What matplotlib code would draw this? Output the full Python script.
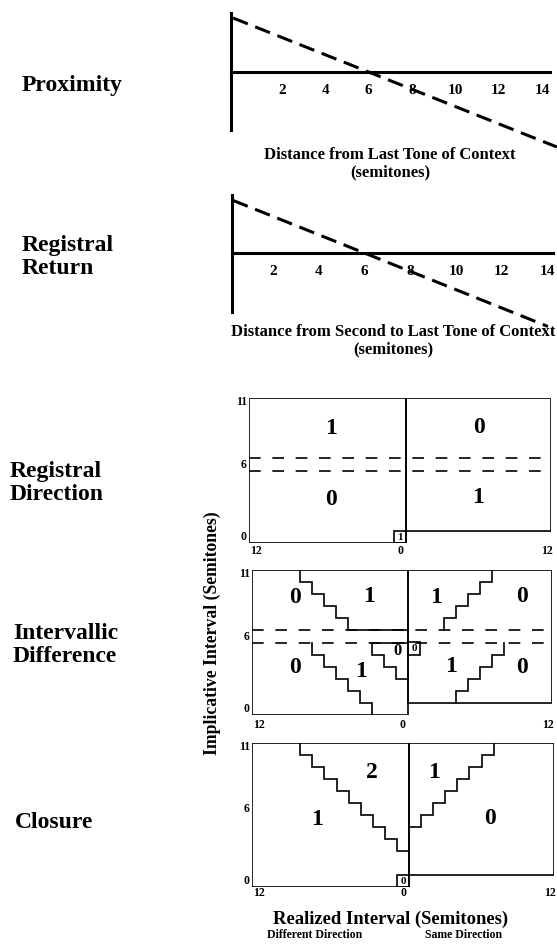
import numpy as np
import matplotlib
matplotlib.use("Agg")
import matplotlib.pyplot as plt
from matplotlib.patches import Rectangle

plt.rcParams["font.family"] = ["Liberation Serif", "DejaVu Serif"]
plt.rcParams["font.weight"] = "bold"

W, H = 557, 948

# --- top two panels: expected value vs. distance (semitones) ---
DIST_TICKS = [2, 4, 6, 8, 10, 12, 14]
PROX_X = [-0.26, 14.69]
PROX_Y = [6.26, -8.69]
RR_X = [0.26, 14.02]
RR_Y = [5.74, -8.02]

# --- grid panels: rows = implicative interval 0..11, cols = realized 0..12 ---
N_ROWS = 12          # implicative 0..11
N_DIFF = 13          # realized 0..12, different direction (incl. unison)
N_SAME = 12          # realized 1..12, same direction
IMPL_TICK_LABELS = ["0", "6", "11"]
REAL_TICK_LABELS = ["12", "0", "12"]

# registral direction: ambiguous band at implicative = 6
RD_BAND = [6, 7]
RD_SCORES = [1, 0, 0, 1, 1]   # diff-large, diff-small, same-large, same-small, unison cell

# intervallic difference: last realized interval of each "1"/"0" region per row
ID_LARGE_ROWS = [11, 10, 9, 8, 7]
ID_DIFF_LARGE_RMAX = [8, 7, 6, 5, 4]
ID_SAME_LARGE_RMAX = [7, 6, 5, 4, 3]
ID_SMALL_ROWS = [5, 4, 3, 2, 1, 0]
ID_DIFF_SMALL_RMAX = [7, 6, 5, 4, 3, 2]
ID_DIFF_ZERO_ROWS = [5, 4, 3]
ID_DIFF_ZERO_RMAX = [2, 1, 0]
ID_SAME_SMALL_ROWS = [5, 4, 3, 2, 1]
ID_SAME_SMALL_RMAX = [8, 7, 6, 5, 4]
ID_SCORES = [0, 1, 0, 1, 0, 1, 0, 1, 0, 0]

# closure
CL_DIFF_ROWS = [11, 10, 9, 8, 7, 6, 5, 4, 3]
CL_DIFF_RMAX = [8, 7, 6, 5, 4, 3, 2, 1, 0]
CL_SAME_ROWS = [11, 10, 9, 8, 7, 6, 5]
CL_SAME_RMAX = [7, 6, 5, 4, 3, 2, 1]
CL_SCORES = [2, 1, 1, 0, 0]

fig = plt.figure(figsize=(W / 100, H / 100), dpi=100)


def px_axes(left, top, right, bottom):
    return fig.add_axes([left / W, 1 - bottom / H, (right - left) / W, (bottom - top) / H])


def ftext(x, y, s, **kw):
    fig.text(x / W, 1 - y / H, s, **kw)


def dist_panel(box, xlim, ylim, xs, ys, label, label_x, label_y):
    ax = px_axes(*box)
    ax.set_xlim(*xlim)
    ax.set_ylim(*ylim)
    ax.patch.set_alpha(0)
    for s in ("top", "right"):
        ax.spines[s].set_visible(False)
    ax.spines["left"].set_linewidth(2.2)
    ax.spines["bottom"].set_linewidth(2.2)
    ax.spines["bottom"].set_position(("data", 0))
    ax.set_yticks([])
    ax.set_xticks(DIST_TICKS, [str(t) for t in DIST_TICKS])
    ax.tick_params(axis="x", length=0, pad=8.5, labelsize=11)
    ax.plot(xs, ys, color="black", lw=2.2, ls=(0, (5.2, 2.6)), clip_on=False)
    ftext(label_x, label_y, label, ha="center", va="center", fontsize=12)
    ftext(label_x, label_y + 17, "(semitones)", ha="center", va="center", fontsize=12)
    return ax


dist_panel((231, 13, 550, 130), (-0.355, 14.37), (-6.72, 6.84), PROX_X, PROX_Y,
           "Distance from Last Tone of Context", 390, 155)
dist_panel((232, 195, 553, 312), (0.218, 14.24), (-6.44, 6.33), RR_X, RR_Y,
           "Distance from Second to Last Tone of Context", 393, 332)


def stairs(rows, xs, start=None, end=None):
    pts = [] if start is None else [start]
    for i, x in zip(rows, xs):
        pts += [(x, i + 1), (x, i)]
    if end is not None:
        pts.append(end)
    return np.array(pts).T


def diff_x(rmax):
    return [-(r + 1) for r in rmax]


def grid_panel(box, corner=None, band=None, xpad=1.5):
    ax = px_axes(*box)
    ax.set_xlim(-N_DIFF, N_SAME)
    ax.set_ylim(0, N_ROWS)
    ax.set_frame_on(False)
    ax.patch.set_alpha(0)
    kw = dict(fill=False, lw=1.2, ec="black")
    ax.add_patch(Rectangle((-N_DIFF, 0), N_DIFF, N_ROWS, **kw))
    ax.add_patch(Rectangle((0, 1), N_SAME, N_ROWS - 1, **kw))
    if corner is not None:
        ax.add_patch(Rectangle((-1, 0), 1, 1, **kw))
        ax.text(-0.5, 0.45, str(corner), ha="center", va="center", fontsize=8)
    if band is not None:
        for y in band:
            ax.plot([-N_DIFF, N_SAME], [y, y], color="black", lw=1.2,
                    ls=(0, (7, 7)), clip_on=False)
    ax.set_yticks([0.6, 6.6, 11.8], IMPL_TICK_LABELS)
    ax.set_xticks([-12.45, -0.45, 11.7], REAL_TICK_LABELS)
    ax.tick_params(length=0, labelsize=8.5, pad=1.5)
    ax.tick_params(axis="x", pad=xpad)
    return ax


def score(ax, x, y, v, size=17):
    ax.text(x, y, str(v), ha="center", va="center", fontsize=size)


line = dict(color="black", lw=1.2, solid_joinstyle="miter")

# Registral Direction
ax3 = grid_panel((249, 398, 551, 543), corner=RD_SCORES[4], band=RD_BAND)
score(ax3, -6.2, 9.5, RD_SCORES[0])
score(ax3, -6.2, 3.6, RD_SCORES[1])
score(ax3, 6.0, 9.6, RD_SCORES[2])
score(ax3, 6.0, 3.8, RD_SCORES[3])

# Intervallic Difference
ax4 = grid_panel((252, 570, 552, 715), band=RD_BAND, xpad=3)
ax4.plot(*stairs(ID_LARGE_ROWS, diff_x(ID_DIFF_LARGE_RMAX), end=(0, 7)), **line)
ax4.plot(*stairs(ID_SMALL_ROWS, diff_x(ID_DIFF_SMALL_RMAX)), **line)
ax4.plot(*stairs(ID_DIFF_ZERO_ROWS, diff_x(ID_DIFF_ZERO_RMAX), start=(0, 6), end=(0, 3)), **line)
ax4.plot(*stairs(ID_LARGE_ROWS, ID_SAME_LARGE_RMAX), **line)
ax4.plot(*stairs(ID_SAME_SMALL_ROWS, ID_SAME_SMALL_RMAX), **line)
ax4.add_patch(Rectangle((0, 5), 1, 1, fill=False, lw=1.2, ec="black"))
score(ax4, -9.4, 9.7, ID_SCORES[0])
score(ax4, -3.25, 9.8, ID_SCORES[1])
score(ax4, -9.4, 3.9, ID_SCORES[2])
score(ax4, -3.9, 3.6, ID_SCORES[3])
score(ax4, -0.9, 5.3, ID_SCORES[4], size=12)
score(ax4, 2.3, 9.7, ID_SCORES[5])
score(ax4, 9.5, 9.8, ID_SCORES[6])
score(ax4, 3.6, 4.0, ID_SCORES[7])
score(ax4, 9.5, 3.9, ID_SCORES[8])
score(ax4, 0.5, 5.5, ID_SCORES[9], size=8)

# Closure
ax5 = grid_panel((252, 743, 554, 887), corner=0, xpad=0)
ax5.plot(*stairs(CL_DIFF_ROWS, diff_x(CL_DIFF_RMAX), end=(0, 3)), **line)
ax5.plot(*stairs(CL_SAME_ROWS, CL_SAME_RMAX, end=(0, 5)), **line)
score(ax5, -3.1, 9.5, CL_SCORES[0])
score(ax5, -7.6, 5.6, CL_SCORES[1])
score(ax5, 2.1, 9.5, CL_SCORES[2])
score(ax5, 6.7, 5.7, CL_SCORES[3])

# left-hand principle names
big = dict(ha="left", va="center", fontsize=17, linespacing=1.08)
ftext(22, 85, "Proximity", **big)
ftext(22, 257, "Registral\nReturn", **big)
ftext(10, 483, "Registral\nDirection", **big)
ftext(13, 645, "Intervallic\nDifference", **big)
ftext(15, 822, "Closure", **big)

# shared axis titles for the grid panels
ftext(212, 633, "Implicative Interval (Semitones)", rotation=90,
      ha="center", va="center", fontsize=12.7)
ftext(391, 919, "Realized Interval (Semitones)", ha="center", va="center", fontsize=13.4)
ftext(315, 935, "Different Direction", ha="center", va="center", fontsize=8.5)
ftext(464, 935, "Same Direction", ha="center", va="center", fontsize=8.5)

fig.savefig("out.png", dpi=100)
